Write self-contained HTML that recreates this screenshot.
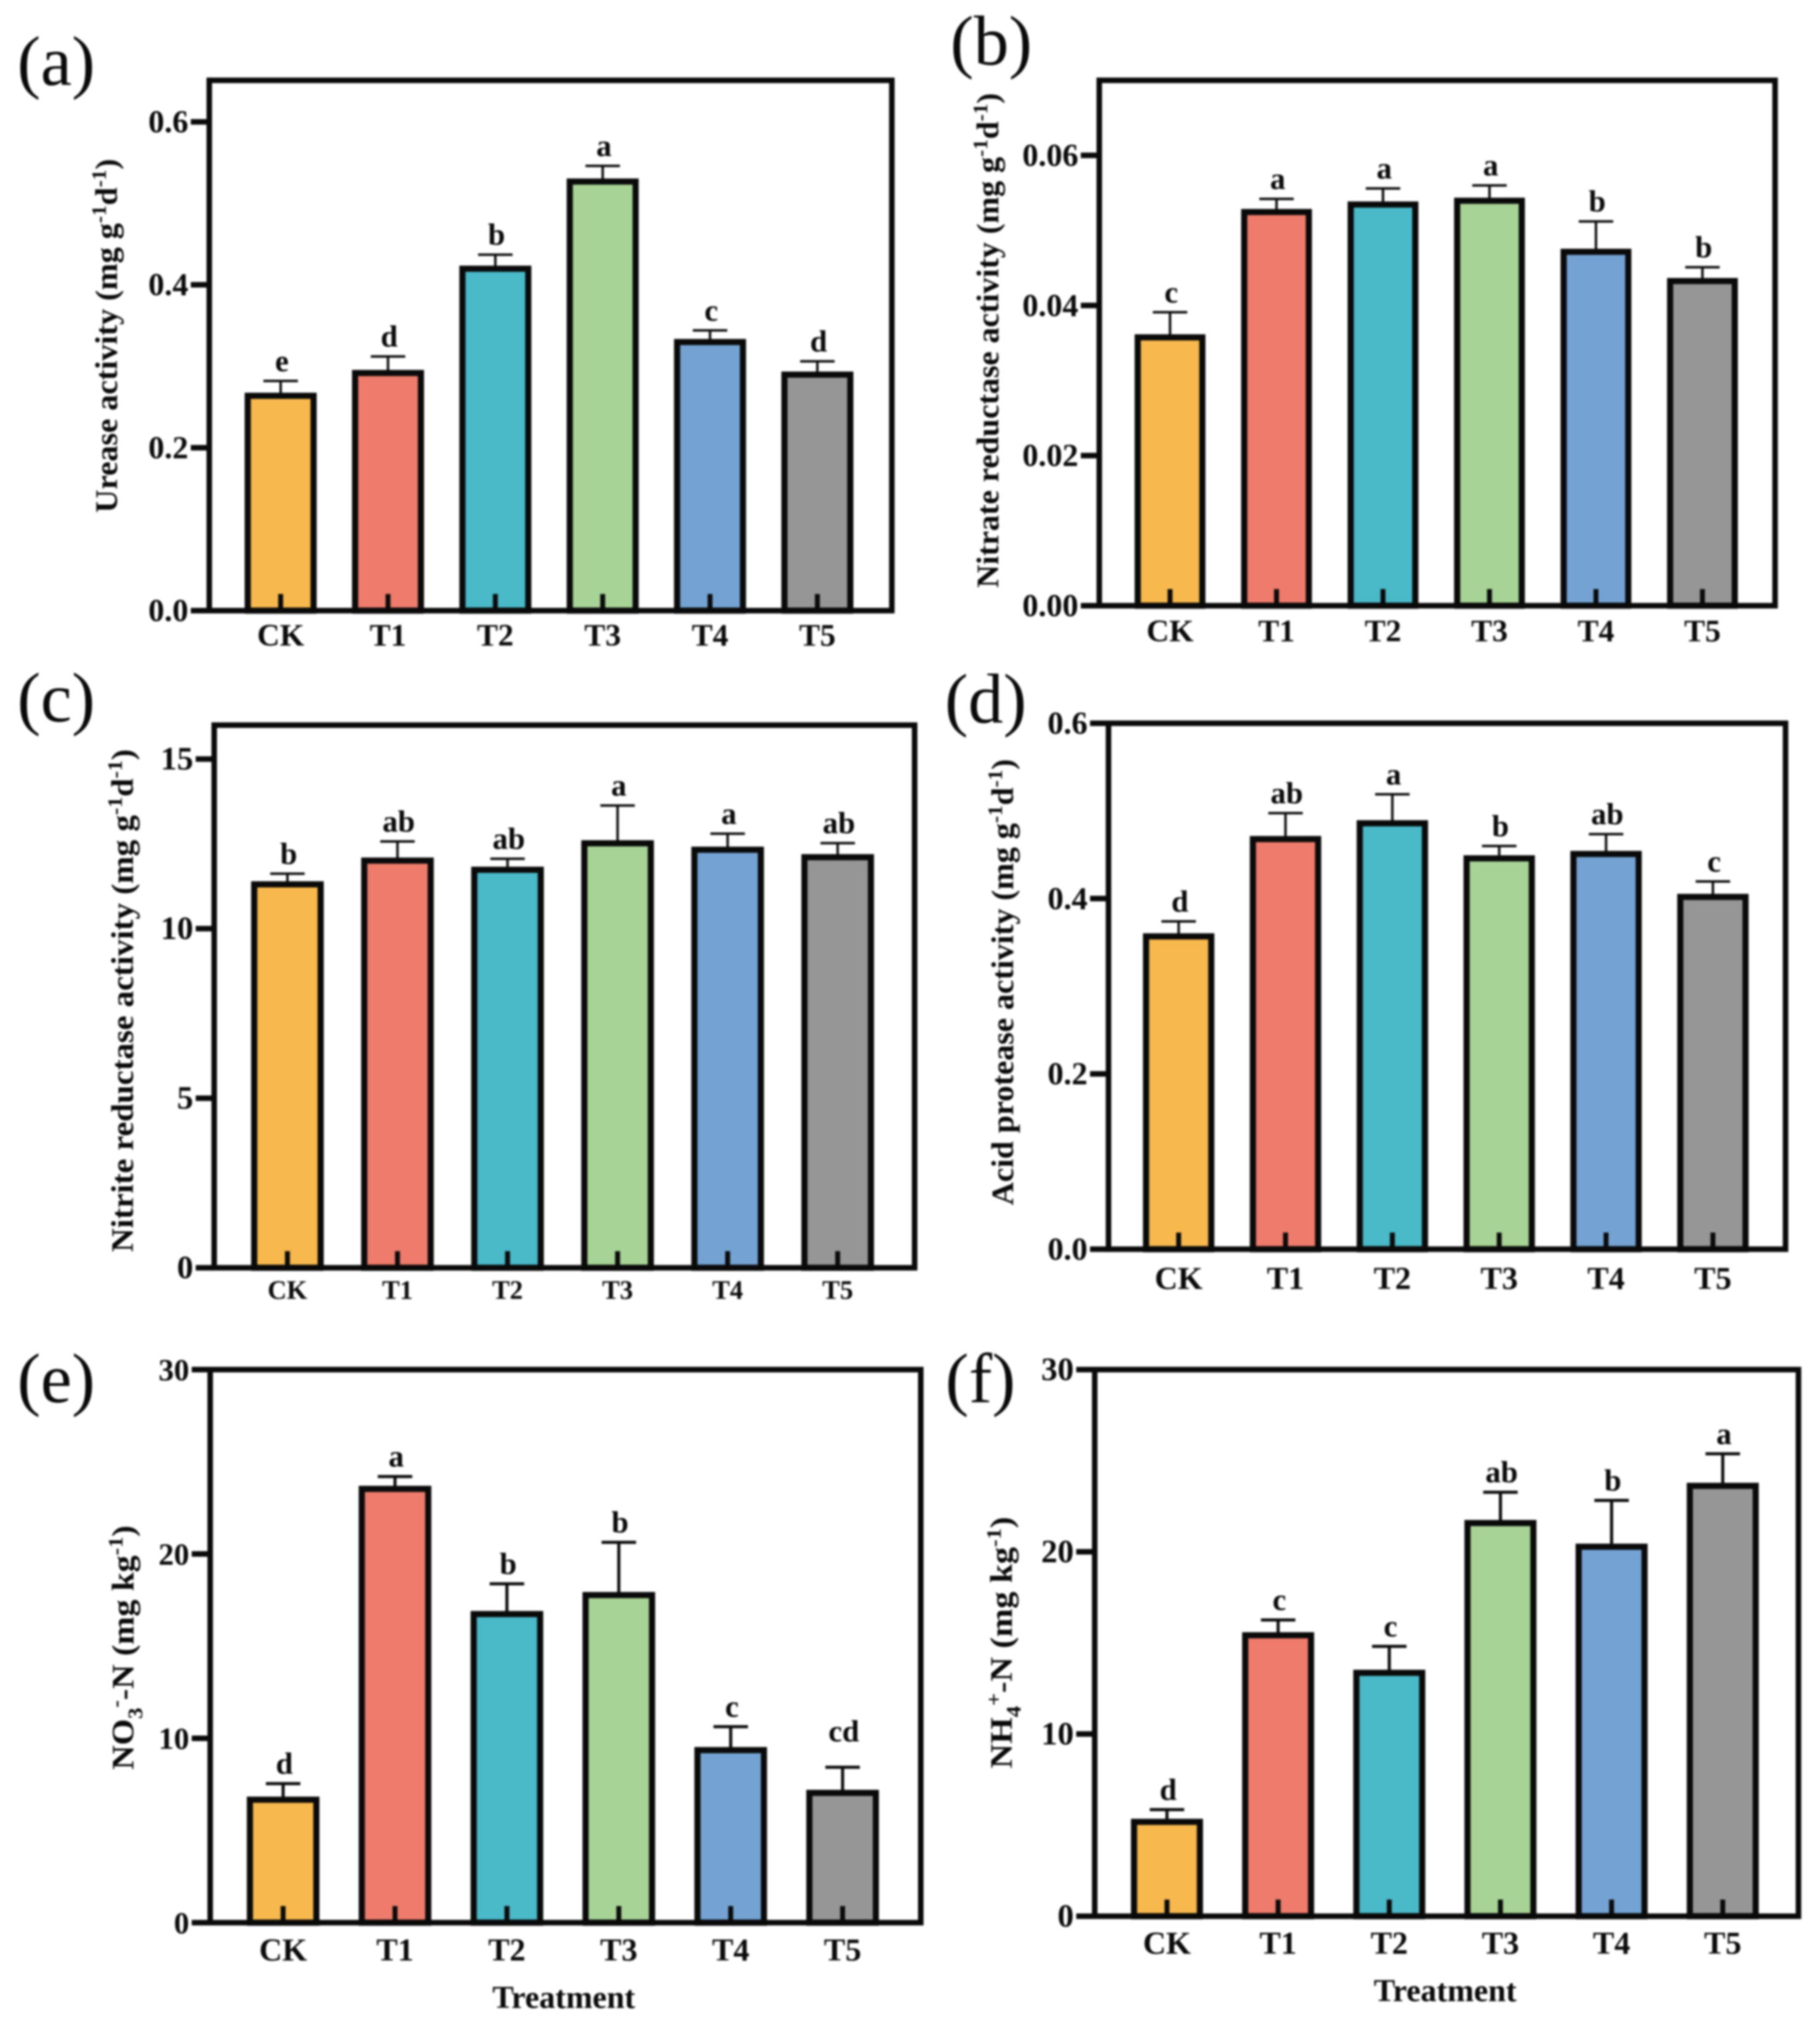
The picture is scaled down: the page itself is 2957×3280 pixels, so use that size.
<!DOCTYPE html>
<html lang="en">
<head>
<meta charset="utf-8">
<title>Soil enzyme activity and mineral nitrogen by treatment</title>
<style>
html,body{margin:0;padding:0;background:#fff;}
svg{display:block;filter:blur(1.7px);}
text{font-family:"Liberation Serif","Times New Roman",serif;fill:#0a0a0a;}
.panel-label{font-size:114px;font-weight:400;}
.axis-title{font-size:51px;font-weight:700;}
.x-title{font-size:52px;font-weight:700;text-anchor:middle;}
</style>
</head>
<body>
<svg id="figure" width="2957" height="3280" viewBox="0 0 2957 3280" xmlns="http://www.w3.org/2000/svg">
  <rect width="2957" height="3280" fill="#ffffff"/>

  <g id="panel-a">
    <text class="panel-label" x="28" y="138">(a)</text>
    <text class="axis-title" transform="translate(190,833) rotate(-90)" textLength="575" lengthAdjust="spacingAndGlyphs">Urease activity (mg g<tspan dy="-18" font-size="34">-1</tspan><tspan dy="18">d</tspan><tspan dy="-18" font-size="34">-1</tspan><tspan dy="18">)</tspan></text>
  </g>
  <g id="panel-b">
    <text class="panel-label" x="1544" y="105">(b)</text>
    <text class="axis-title" transform="translate(1622,955) rotate(-90)" textLength="804" lengthAdjust="spacingAndGlyphs">Nitrate reductase activity (mg g<tspan dy="-18" font-size="34">-1</tspan><tspan dy="18">d</tspan><tspan dy="-18" font-size="34">-1</tspan><tspan dy="18">)</tspan></text>
  </g>
  <g id="panel-c">
    <text class="panel-label" x="28" y="1172">(c)</text>
    <text class="axis-title" transform="translate(216,2034) rotate(-90)" textLength="817" lengthAdjust="spacingAndGlyphs">Nitrite reductase activity (mg g<tspan dy="-18" font-size="34">-1</tspan><tspan dy="18">d</tspan><tspan dy="-18" font-size="34">-1</tspan><tspan dy="18">)</tspan></text>
  </g>
  <g id="panel-d">
    <text class="panel-label" x="1535" y="1174">(d)</text>
    <text class="axis-title" transform="translate(1646,1958) rotate(-90)" textLength="725" lengthAdjust="spacingAndGlyphs">Acid protease activity (mg g<tspan dy="-18" font-size="34">-1</tspan><tspan dy="18">d</tspan><tspan dy="-18" font-size="34">-1</tspan><tspan dy="18">)</tspan></text>
  </g>
  <g id="panel-e">
    <text class="panel-label" x="28" y="2278">(e)</text>
    <text class="axis-title" transform="translate(217,2875) rotate(-90)" textLength="397" lengthAdjust="spacingAndGlyphs">NO<tspan dy="14" font-size="34">3</tspan><tspan dy="-32" font-size="34">-</tspan><tspan dy="18">-N (mg kg</tspan><tspan dy="-18" font-size="34">-1</tspan><tspan dy="18">)</tspan></text>
    <text class="x-title" x="916" y="3262">Treatment</text>
  </g>
  <g id="panel-f">
    <text class="panel-label" x="1536" y="2278">(f)</text>
    <text class="axis-title" transform="translate(1644,2873) rotate(-90)" textLength="409" lengthAdjust="spacingAndGlyphs">NH<tspan dy="14" font-size="34">4</tspan><tspan dy="-32" font-size="34">+</tspan><tspan dy="18">-N (mg kg</tspan><tspan dy="-18" font-size="34">-1</tspan><tspan dy="18">)</tspan></text>
    <text class="x-title" x="2348" y="3251">Treatment</text>
  </g>
</svg>

<script>
const categories = ['CK', 'T1', 'T2', 'T3', 'T4', 'T5'];
const barColors = ['#F7B84E', '#EE7B6C', '#4AB9C8', '#A7D396', '#74A3D3', '#969696'];

const ureaseValues = [0.266, 0.294, 0.422, 0.529, 0.332, 0.292];
const ureaseErrors = [0.016, 0.018, 0.015, 0.017, 0.012, 0.014];
const ureaseLetters = ['e', 'd', 'b', 'a', 'c', 'd'];
const ureaseTicks = ['0.0', '0.2', '0.4', '0.6'];

const nitrateReductaseValues = [0.0360, 0.0527, 0.0537, 0.0542, 0.0474, 0.0435];
const nitrateReductaseErrors = [0.0031, 0.0015, 0.0019, 0.0018, 0.0038, 0.0016];
const nitrateReductaseLetters = ['c', 'a', 'a', 'a', 'b', 'b'];
const nitrateReductaseTicks = ['0.00', '0.02', '0.04', '0.06'];

const nitriteReductaseValues = [11.36, 12.06, 11.79, 12.57, 12.38, 12.16];
const nitriteReductaseErrors = [0.26, 0.51, 0.27, 1.06, 0.42, 0.36];
const nitriteReductaseLetters = ['b', 'ab', 'ab', 'a', 'a', 'ab'];
const nitriteReductaseTicks = ['0', '5', '10', '15'];

const proteaseValues = [0.359, 0.470, 0.488, 0.448, 0.453, 0.404];
const proteaseErrors = [0.015, 0.0275, 0.031, 0.012, 0.0205, 0.0155];
const proteaseLetters = ['d', 'ab', 'a', 'b', 'ab', 'c'];
const proteaseTicks = ['0.0', '0.2', '0.4', '0.6'];

const nitrateNValues = [6.77, 23.63, 16.84, 17.87, 9.46, 7.14];
const nitrateNErrors = [0.77, 0.57, 1.54, 2.76, 1.17, 1.29];
const nitrateNLetters = ['d', 'a', 'b', 'b', 'c', 'cd'];
const nitrateNTicks = ['0', '10', '20', '30'];

const ammoniumNValues = [5.28, 15.52, 13.46, 21.68, 20.38, 23.72];
const ammoniumNErrors = [0.57, 0.74, 1.35, 1.59, 2.44, 1.66];
const ammoniumNLetters = ['d', 'c', 'c', 'ab', 'b', 'a'];
const ammoniumNTicks = ['0', '10', '20', '30'];

const SVG_NS = 'http://www.w3.org/2000/svg';
const BAR_STROKE = 10;

function line(parent, x1, y1, x2, y2, width) {
  const el = document.createElementNS(SVG_NS, 'line');
  el.setAttribute('x1', x1);
  el.setAttribute('y1', y1);
  el.setAttribute('x2', x2);
  el.setAttribute('y2', y2);
  el.setAttribute('stroke', '#0a0a0a');
  el.setAttribute('stroke-width', width);
  parent.appendChild(el);
  return el;
}

function label(parent, x, y, text, size, anchor) {
  const el = document.createElementNS(SVG_NS, 'text');
  el.setAttribute('x', x);
  el.setAttribute('y', y);
  el.setAttribute('font-size', size);
  el.setAttribute('font-weight', '700');
  el.setAttribute('text-anchor', anchor);
  el.textContent = text;
  parent.appendChild(el);
  return el;
}

function drawPanel(o) {
  const parent = document.getElementById(o.id);
  const yScale = function (v) { return o.bottom - (v / o.yMax) * (o.bottom - o.top); };
  const xScale = function (i) { return o.firstCenter + i * o.step; };

  o.values.forEach(function (value, i) {
    const cx = xScale(i);
    const errTop = yScale(value + o.errors[i]);
    const barTop = yScale(value) + 3;

    const errStem = line(parent, cx, barTop, cx, errTop, o.errWidth);
    
    

    const errCap = line(parent, cx - 28, errTop, cx + 28, errTop, o.errWidth);
    
    

    const bar = document.createElementNS(SVG_NS, 'rect');
    bar.setAttribute('x', cx - o.barWidth / 2);
    bar.setAttribute('y', barTop);
    bar.setAttribute('width', o.barWidth);
    bar.setAttribute('height', o.bottom - barTop);
    bar.setAttribute('fill', barColors[i]);
    bar.setAttribute('stroke', '#0a0a0a');
    bar.setAttribute('stroke-width', BAR_STROKE);
    
    
    parent.appendChild(bar);

    const gap = o.letters[i] === 'cd' ? 42 : 16;
    const sig = label(parent, cx + 2, errTop - gap, o.letters[i], o.letterSize, 'middle');
    
    

    const xTick = line(parent, cx, o.bottom, cx, o.bottom - 27, 8);
    
    

    const xLabel = label(parent, cx, o.xLabelY, categories[i], o.xLabelSize, 'middle');
    
    
  });

  const frame = document.createElementNS(SVG_NS, 'rect');
  frame.setAttribute('x', o.left);
  frame.setAttribute('y', o.top);
  frame.setAttribute('width', o.right - o.left);
  frame.setAttribute('height', o.bottom - o.top);
  frame.setAttribute('fill', 'none');
  frame.setAttribute('stroke', '#0a0a0a');
  frame.setAttribute('stroke-width', 9);
  
  
  parent.appendChild(frame);

  o.ticks.forEach(function (tick) {
    const y = yScale(parseFloat(tick));

    const yTick = line(parent, o.left - 30, y, o.left, y, 9);
    
    

    const yLabel = label(parent, o.left - 34, y + 17, tick, o.tickSize, 'end');
    
    
  });
}

drawPanel({ id: 'panel-a', values: ureaseValues, errors: ureaseErrors, letters: ureaseLetters, ticks: ureaseTicks,
  yMax: 0.651, left: 340, right: 1449, top: 130.5, bottom: 992, firstCenter: 456, step: 174.4, barWidth: 107,
  errWidth: 4, letterSize: 50, tickSize: 52, xLabelSize: 51, xLabelY: 1049 });
drawPanel({ id: 'panel-b', values: nitrateReductaseValues, errors: nitrateReductaseErrors, letters: nitrateReductaseLetters, ticks: nitrateReductaseTicks,
  yMax: 0.07, left: 1786, right: 2884, top: 130.5, bottom: 984, firstCenter: 1901, step: 173, barWidth: 105,
  errWidth: 4, letterSize: 50, tickSize: 52, xLabelSize: 51, xLabelY: 1042 });
drawPanel({ id: 'panel-c', values: nitriteReductaseValues, errors: nitriteReductaseErrors, letters: nitriteReductaseLetters, ticks: nitriteReductaseTicks,
  yMax: 16, left: 348, right: 1486, top: 1178, bottom: 2059.6, firstCenter: 467, step: 178.8, barWidth: 108,
  errWidth: 4, letterSize: 50, tickSize: 53, xLabelSize: 43, xLabelY: 2110 });
drawPanel({ id: 'panel-d', values: proteaseValues, errors: proteaseErrors, letters: proteaseLetters, ticks: proteaseTicks,
  yMax: 0.6, left: 1801, right: 2901, top: 1175, bottom: 2029.4, firstCenter: 1915, step: 173.6, barWidth: 106,
  errWidth: 4, letterSize: 50, tickSize: 52, xLabelSize: 52, xLabelY: 2094 });
drawPanel({ id: 'panel-e', values: nitrateNValues, errors: nitrateNErrors, letters: nitrateNLetters, ticks: nitrateNTicks,
  yMax: 30, left: 341.5, right: 1496, top: 2225, bottom: 3123.5, firstCenter: 460, step: 181.8, barWidth: 108,
  errWidth: 5, letterSize: 50, tickSize: 50, xLabelSize: 52, xLabelY: 3185 });
drawPanel({ id: 'panel-f', values: ammoniumNValues, errors: ammoniumNErrors, letters: ammoniumNLetters, ticks: ammoniumNTicks,
  yMax: 30, left: 1778.6, right: 2922, top: 2225, bottom: 3113, firstCenter: 1896, step: 180.6, barWidth: 107,
  errWidth: 5, letterSize: 50, tickSize: 53, xLabelSize: 52, xLabelY: 3174 });
</script>
</body>
</html>
